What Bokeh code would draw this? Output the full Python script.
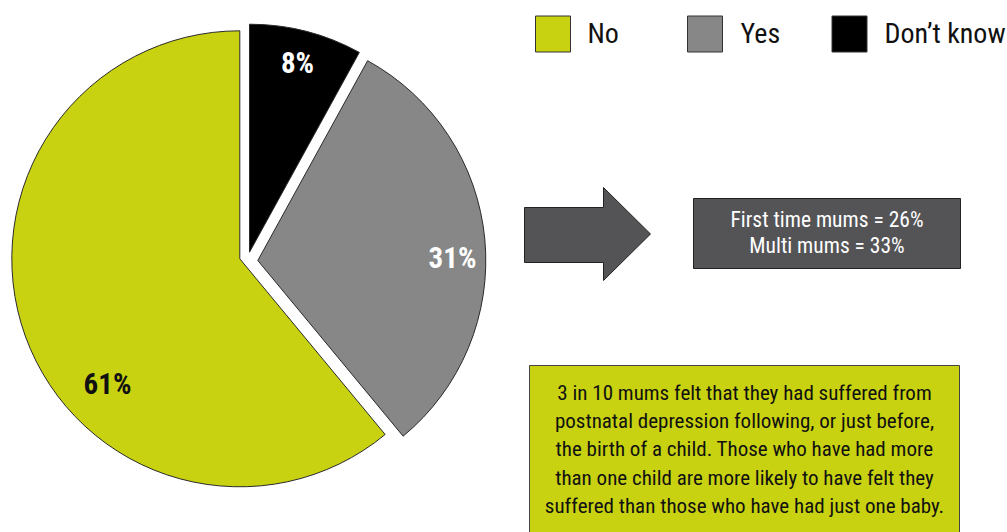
import math
from bokeh.plotting import figure
from bokeh.models import ColumnDataSource
from bokeh.core.properties import value
from bokeh.embed import file_html
from bokeh.resources import INLINE

# ---- data ----
categories = ["Don\u2019t know", "Yes", "No"]          # clockwise from 12 o'clock
shares = [8, 31, 61]
legend_order = ["No", "Yes", "Don\u2019t know"]
sub_lines = ["First time mums = 26%", "Multi mums = 33%"]
note_lines = [
    "3 in 10 mums felt that they had suffered from",
    "postnatal depression following, or just before,",
    "the birth of a child. Those who have had more",
    "than one child are more likely to have felt they",
    "suffered than those who have had just one baby.",
]

# ---- styles / layout ----
W, H = 1007, 532
FONT = "Roboto Condensed"
colors = {"No": "#c8d210", "Yes": "#878787", "Don\u2019t know": "#000000"}
label_colors = {"No": "#111111", "Yes": "#ffffff", "Don\u2019t know": "#ffffff"}
# slice vertex positions (screen px) – exploded pie
centers = {"Don\u2019t know": (249, 251.7), "Yes": (257.3, 260), "No": (239.3, 258.3)}
label_pos = {"Don\u2019t know": (297, 62), "Yes": (452, 257), "No": (107, 383)}
R = 228


def Y(py):
    return H - py


p = figure(width=W, height=H, x_range=(0, W), y_range=(0, H),
           output_backend="svg", toolbar_location=None, min_border=0)
p.axis.visible = False
p.grid.visible = False
p.outline_line_color = None
p.background_fill_color = "white"
p.border_fill_color = "white"

# ---- pie ----
total = sum(shares)
cum = 0
xs, ys, st, en, fc, lx, ly, lt, lc = [], [], [], [], [], [], [], [], []
for cat, v in zip(categories, shares):
    a0 = math.pi / 2 - 2 * math.pi * cum / total
    cum += v
    a1 = math.pi / 2 - 2 * math.pi * cum / total
    cx, cy = centers[cat]
    xs.append(cx); ys.append(Y(cy)); st.append(a0); en.append(a1); fc.append(colors[cat])
    px, py = label_pos[cat]
    lx.append(px); ly.append(Y(py)); lt.append(f"{v}%"); lc.append(label_colors[cat])

src = ColumnDataSource(dict(x=xs, y=ys, start=st, end=en, color=fc))
p.wedge(x="x", y="y", radius=R, start_angle="start", end_angle="end",
        direction="clock", fill_color="color", line_color="#2a2a2a", line_width=1, source=src)

lsrc = ColumnDataSource(dict(x=lx, y=ly, t=lt, c=lc))
p.text(x="x", y="y", text="t", text_color="c", text_font=value(FONT),
       text_font_size="29px", text_font_style="bold", text_align="center",
       text_baseline="middle", source=lsrc)

# ---- legend ----
leg_sq_x = [552.5, 704.5, 849]
leg_tx = [587, 740, 884]
for cat, sx, tx in zip(legend_order, leg_sq_x, leg_tx):
    p.rect(x=sx, y=Y(33.5), width=35, height=36, fill_color=colors[cat],
           line_color="#333333", line_width=1)
    p.text(x=[tx], y=[Y(33)], text=[cat], text_font=value(FONT), text_font_size="28px",
           text_color="#111111", text_align="left", text_baseline="middle")

# ---- arrow ----
ax = [524, 603, 603, 650, 603, 603, 524]
ay = [207, 207, 187, 233.5, 280, 262, 262]
p.patch(x=ax, y=[Y(v) for v in ay], fill_color="#545457", line_color="#222222", line_width=1)

# ---- dark box ----
p.quad(left=693, right=960, top=Y(198), bottom=Y(268), fill_color="#545457",
       line_color="#222222", line_width=1)
p.text(x=[826.5] * len(sub_lines), y=[Y(219), Y(245)], text=sub_lines,
       text_font=value(FONT), text_font_size="21.5px", text_color="#ffffff",
       text_align="center", text_baseline="middle")

# ---- note box ----
p.quad(left=529, right=959, top=Y(365), bottom=Y(545), fill_color="#c8d210",
       line_color="#444444", line_width=1)
p.text(x=[744] * len(note_lines), y=[Y(392 + 28.4 * i) for i in range(len(note_lines))],
       text=note_lines, text_font=value(FONT), text_font_size="21px",
       text_color="#111111", text_align="center", text_baseline="middle")

open("out.html", "w").write(file_html(p, INLINE))
